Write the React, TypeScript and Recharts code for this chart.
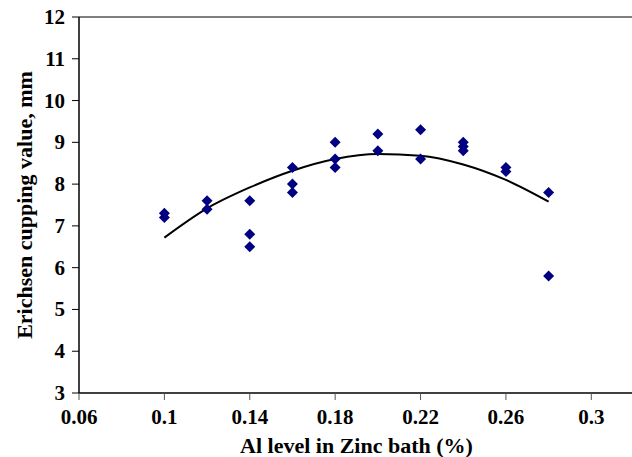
import {
  ComposedChart,
  Scatter,
  Line,
  XAxis,
  YAxis,
  ReferenceLine,
  Label,
} from "recharts";

// measured points (Al %, cupping value mm)
const alLevel = [
  0.1, 0.1, 0.12, 0.12, 0.14, 0.14, 0.14, 0.16, 0.16, 0.16, 0.18, 0.18, 0.18,
  0.2, 0.2, 0.22, 0.22, 0.24, 0.24, 0.24, 0.26, 0.26, 0.28, 0.28,
];
const cupping = [
  7.3, 7.2, 7.6, 7.4, 7.6, 6.8, 6.5, 8.4, 8.0, 7.8, 9.0, 8.6, 8.4, 9.2, 8.8,
  9.3, 8.6, 9.0, 8.9, 8.8, 8.4, 8.3, 7.8, 5.8,
];

// polynomial trend line
const trendX = [0.1, 0.12, 0.14, 0.16, 0.18, 0.2, 0.22, 0.24, 0.26, 0.28];
const trendY = [6.72, 7.42, 7.92, 8.32, 8.6, 8.72, 8.68, 8.47, 8.1, 7.58];

const xTicks = [0.06, 0.1, 0.14, 0.18, 0.22, 0.26, 0.3];
const yTicks = [3, 4, 5, 6, 7, 8, 9, 10, 11, 12];

const points = alLevel.map((x, i) => ({ x, y: cupping[i] }));
const trend = trendX.map((x, i) => ({ x, t: trendY[i] }));

const font = '"Liberation Serif", "Times New Roman", serif';
const tickStyle = {
  fill: "#000",
  fontSize: 21,
  fontWeight: 700,
  fontFamily: font,
};

const Diamond = (props: any) => {
  const { cx, cy } = props;
  const r = 5.5;
  return (
    <polygon
      points={`${cx},${cy - r} ${cx + r},${cy} ${cx},${cy + r} ${cx - r},${cy}`}
      fill="#000080"
    />
  );
};

const XTick = ({ x, y, payload }: any) => (
  <text x={x} y={y + 22} textAnchor="middle" style={tickStyle}>
    {payload.value}
  </text>
);

const YTick = ({ x, y, payload }: any) => (
  <text x={x - 5} y={y + 7} textAnchor="end" style={tickStyle}>
    {payload.value}
  </text>
);

export default function App() {
  return (
    <div
      style={{
        position: "absolute",
        left: 0,
        top: 0,
        width: 632,
        height: 457,
        overflow: "hidden",
        background: "#fff",
      }}
    >
      <ComposedChart
        width={640}
        height={457}
        margin={{ top: 17, right: 6, left: 0, bottom: 0 }}
      >
        <XAxis
          type="number"
          dataKey="x"
          domain={[0.06, 0.32]}
          ticks={xTicks}
          allowDataOverflow
          height={64}
          tickSize={7}
          axisLine={{ stroke: "#000", strokeWidth: 1.5 }}
          tickLine={{ stroke: "#555" }}
          tick={<XTick />}
        >
          <Label
            value="Al level in Zinc bath (%)"
            position="insideBottom"
            offset={4}
            style={{ fill: "#000", fontSize: 22, fontWeight: 700, fontFamily: font }}
          />
        </XAxis>
        <YAxis
          type="number"
          dataKey="y"
          domain={[3, 12]}
          ticks={yTicks}
          width={79}
          tickSize={7}
          axisLine={{ stroke: "#000", strokeWidth: 1.5 }}
          tickLine={{ stroke: "#000" }}
          tick={<YTick />}
        >
          <Label
            value="Erichsen cupping value, mm"
            angle={-90}
            position="insideLeft"
            offset={24}
            style={{
              fill: "#000",
              fontSize: 22,
              fontWeight: 700,
              fontFamily: font,
              textAnchor: "middle",
            }}
          />
        </YAxis>
        <ReferenceLine y={12} stroke="#555" strokeWidth={1.5} />
        <Line
          data={trend}
          dataKey="t"
          type="monotone"
          stroke="#000"
          strokeWidth={2}
          dot={false}
          activeDot={false}
          isAnimationActive={false}
        />
        <Scatter
          data={points}
          dataKey="y"
          shape={Diamond}
          isAnimationActive={false}
        />
      </ComposedChart>
    </div>
  );
}
